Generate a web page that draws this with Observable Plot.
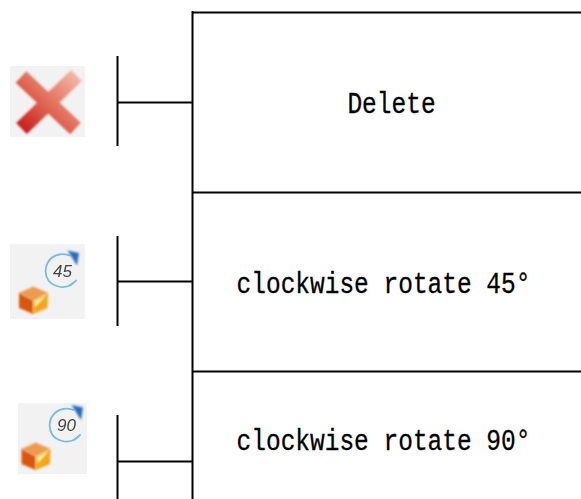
<!DOCTYPE html>
<html>
<head>
<meta charset="utf-8">
<style>html,body{margin:0;padding:0;background:#fff}svg{display:block}</style>
<script src="https://cdn.jsdelivr.net/npm/d3@7"></script>
<script src="https://cdn.jsdelivr.net/npm/@observablehq/plot@0.6"></script>
</head>
<body>
<script>
const labels = ["Delete", "clockwise rotate 45°", "clockwise rotate 90°"];
const labelX = [391, 383, 383];
const labelY = [103, 283, 440];
const rowRulesY = [12, 192, 371];
const boxLeftX = 192;
const tickX = 117;
const tickY1 = [56, 236, 415];
const tickY2 = [146, 326, 499];
const connectorY = [102, 281, 461];
const iconX1 = [10, 10, 18];
const iconX2 = [85, 85, 87];
const iconY1 = [66, 244, 403];
const iconY2 = [137, 319, 474];
const crossArmA = [{x: 20.5, y: 76.5}, {x: 75, y: 128}];
const crossArmB = [{x: 21, y: 128}, {x: 76, y: 75}];
const cubeTop = [[32.7,286],[47.5,292.5],[32.7,300],[18.5,292.5]];
const cubeLeft = [[18.5,292.5],[32.7,300],[32.7,313.5],[18.5,307.5]];
const cubeRight = [[32.7,300],[47.5,292.5],[47,307.5],[32.7,313.5]];
const cubeGlint = [[33.5,301],[46.5,294],[35,306.5]];
const arcPts = [[69,255],[61,253.6],[51,257.5],[45.3,268],[48,280],[58,286],[68,285.5],[75.5,280]];
const arrowPts = [[67,250],[78.5,252.5],[76.5,265]];
const rotateOffsets = [{dx: 0, dy: 0, text: "45", tx: 62, ty: 271}, {dx: 4, dy: 154.5, text: "90", tx: 66, ty: 425}];
const cubeOffsets = [{dx: 0, dy: 0}, {dx: 2.5, dy: 156}];

const toPts = (arr, o) => arr.map(([x, y]) => ({x: x + o.dx, y: y + o.dy}));
const blur = "blur(0.9px)";

function poly(arr, o, fill) {
  return Plot.line(toPts(arr, o), {x: "x", y: "y", fill, stroke: "none", curve: "linear-closed", imageFilter: blur});
}

const defs = () => {
  const s = d3.create("svg:g");
  const d = s.append("defs");
  const g = d.append("linearGradient").attr("id", "crossGrad").attr("gradientUnits", "userSpaceOnUse")
    .attr("x1", 22).attr("y1", 130).attr("x2", 78).attr("y2", 74);
  [[0, "#c81d1d"], [0.5, "#e2705c"], [1, "#f3bcaa"]].forEach(([o, c]) =>
    g.append("stop").attr("offset", o).attr("stop-color", c));
  return s.node();
};

const plot = Plot.plot({
  width: 581,
  height: 499,
  margin: 0,
  x: {domain: [0, 581], range: [0, 581], axis: null},
  y: {domain: [0, 499], range: [0, 499], axis: null},
  style: {background: "#fff"},
  marks: [
    defs,
    Plot.ruleY(rowRulesY, {x1: boxLeftX, x2: 581, stroke: "#000", strokeWidth: 2}),
    Plot.ruleX([boxLeftX], {y1: rowRulesY[0] - 1, y2: 499, stroke: "#000", strokeWidth: 2}),
    Plot.ruleX(tickY1, {x: () => tickX, y1: (d) => d, y2: (d, i) => tickY2[i], stroke: "#000", strokeWidth: 2}),
    Plot.ruleY(connectorY, {x1: tickX, x2: boxLeftX, stroke: "#000", strokeWidth: 2}),
    Plot.rect(iconX1, {x1: (d) => d, x2: (d, i) => iconX2[i], y1: (d, i) => iconY1[i], y2: (d, i) => iconY2[i], fill: "#f2f2f2", imageFilter: "blur(0.4px)"}),
    Plot.line(crossArmA, {x: "x", y: "y", stroke: "url(#crossGrad)", strokeWidth: 15.5, strokeLinecap: "butt", imageFilter: blur}),
    Plot.line(crossArmB, {x: "x", y: "y", stroke: "url(#crossGrad)", strokeWidth: 15.5, strokeLinecap: "butt", imageFilter: blur}),
    ...cubeOffsets.flatMap((o) => [
      poly(cubeTop, o, "#ee9a50"),
      poly(cubeLeft, o, "#d9560f"),
      poly(cubeRight, o, "#f4a518"),
      poly(cubeGlint, o, "#fff0c0")
    ]),
    ...rotateOffsets.flatMap((o) => [
      Plot.line(toPts(arcPts, o), {x: "x", y: "y", stroke: "#74bce6", strokeWidth: 1.8, curve: "catmull-rom", imageFilter: "blur(0.5px)"}),
      poly(arrowPts, o, "#2a6cc0"),
      Plot.text([o.text], {x: () => o.tx, y: () => o.ty, text: (d) => d, fontSize: 17, fontStyle: "italic", fontFamily: "Liberation Sans", fill: "#444", imageFilter: "blur(0.6px)"})
    ]),
    Plot.text(labels, {
      x: (d, i) => labelX[i],
      y: (d, i) => labelY[i],
      text: (d) => d,
      fontFamily: "Liberation Mono",
      fontSize: 29,
      fill: "#000",
      stroke: "#000",
      strokeWidth: 0.3,
      textAnchor: "middle",
      lineAnchor: "middle"
    })
  ]
});
d3.select(plot).selectAll("text").filter(function () { return labels.includes(this.textContent); })
  .each(function () {
    const t = this.getAttribute("transform") || "";
    this.setAttribute("transform", t + " scale(0.845,1)");
  });
document.body.append(plot);
</script>
</body>
</html>
